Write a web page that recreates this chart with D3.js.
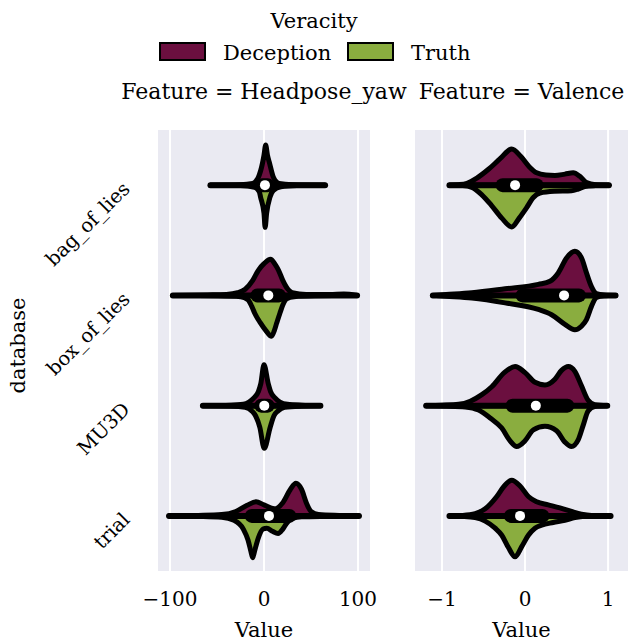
<!DOCTYPE html>
<html>
<head>
<meta charset="utf-8">
<script src="https://cdn.jsdelivr.net/npm/d3@7/dist/d3.min.js"></script>
<style>
  body { margin: 0; background: #fff; }
  text { font-family: "DejaVu Serif", serif; fill: #000; }
</style>
</head>
<body>
<div id="chart"></div>
<script>
// categories and groups
var databases = ["bag_of_lies", "box_of_lies", "MU3D", "trial"];
var features = ["Headpose_yaw", "Valence"];
var veracity = ["Deception", "Truth"];
var colours = ["#6b0f3f", "#8aad3f"];

// tick labels
var yawTicks = [-100, 0, 100];
var valTicks = [-1, 0, 1];

// density profiles: [value, relative density]
var yawDeception = [
  [[-57,0],[-25,0.01],[-12,0.04],[-6,0.18],[-1.6,0.5],[0,0.68],[1.8,0.91],[3.7,0.68],[5.9,0.5],[10,0.18],[16,0.04],[30,0.01],[65,0]],
  [[-97,0],[-60,0.01],[-40,0.02],[-28,0.06],[-20,0.14],[-12,0.34],[-6,0.57],[0,0.72],[7,0.82],[12,0.7],[15.5,0.57],[20,0.34],[25,0.15],[30,0.06],[45,0.02],[70,0.02],[85,0.03],[99,0]],
  [[-65,0],[-35,0.01],[-22,0.03],[-16,0.08],[-11,0.17],[-6,0.32],[-3.4,0.5],[0,0.93],[4.5,0.5],[7,0.32],[12,0.17],[17,0.08],[25,0.03],[40,0.01],[60,0]],
  [[-101,0],[-70,0.01],[-45,0.03],[-30,0.1],[-18,0.24],[-8.5,0.32],[0,0.25],[11,0.16],[20,0.3],[28,0.6],[34,0.74],[40,0.6],[45,0.3],[50,0.1],[58,0.03],[80,0.01],[101,0]]
];
var yawTruth = [
  [[-57,0],[-25,0.01],[-10,0.05],[-5,0.15],[-3.7,0.27],[0,0.64],[1.2,0.96],[2.8,0.64],[6.4,0.27],[10,0.12],[18,0.04],[35,0.01],[65,0]],
  [[-97,0],[-50,0.01],[-25,0.03],[-17,0.1],[-13,0.25],[-10,0.4],[-4,0.62],[2,0.8],[8,0.93],[11,0.8],[13.5,0.63],[17,0.4],[20,0.22],[24,0.08],[32,0.03],[55,0.01],[99,0]],
  [[-65,0],[-35,0.01],[-20,0.04],[-13,0.12],[-9,0.23],[-4.5,0.49],[0.3,0.97],[6.6,0.49],[10.6,0.23],[15,0.12],[22,0.04],[40,0.01],[60,0]],
  [[-101,0],[-70,0.01],[-45,0.03],[-32,0.1],[-22,0.3],[-17,0.55],[-14,0.8],[-12,0.95],[-10,0.8],[-6,0.5],[-1,0.3],[3,0.28],[9,0.35],[15,0.4],[20,0.3],[24,0.17],[30,0.06],[40,0.02],[70,0.01],[101,0]]
];
var valDeception = [
  [[-0.91,0],[-0.8,0.01],[-0.7,0.04],[-0.58,0.16],[-0.44,0.36],[-0.3,0.6],[-0.16,0.82],[-0.05,0.65],[0.05,0.42],[0.14,0.28],[0.25,0.23],[0.36,0.22],[0.48,0.25],[0.58,0.28],[0.66,0.2],[0.74,0.06],[0.85,0.01],[1.01,0]],
  [[-1.11,0],[-0.95,0.02],[-0.64,0.06],[-0.24,0.15],[0.16,0.25],[0.3,0.32],[0.4,0.51],[0.5,0.85],[0.6,1.0],[0.68,0.85],[0.74,0.51],[0.8,0.2],[0.86,0.04],[0.95,0.01],[1.09,0]],
  [[-1.19,0],[-1.0,0.01],[-0.8,0.03],[-0.66,0.1],[-0.52,0.25],[-0.4,0.43],[-0.25,0.75],[-0.12,0.89],[0.0,0.75],[0.12,0.53],[0.24,0.47],[0.36,0.6],[0.44,0.8],[0.52,0.89],[0.6,0.78],[0.68,0.45],[0.76,0.12],[0.84,0.02],[0.99,0]],
  [[-0.91,0],[-0.75,0.01],[-0.6,0.05],[-0.48,0.16],[-0.34,0.44],[-0.25,0.68],[-0.16,0.81],[-0.06,0.68],[0.04,0.44],[0.14,0.32],[0.28,0.25],[0.42,0.18],[0.56,0.1],[0.68,0.04],[0.8,0.01],[1.03,0]]
];
var valTruth = [
  [[-0.91,0],[-0.75,0.01],[-0.64,0.05],[-0.52,0.22],[-0.4,0.47],[-0.28,0.75],[-0.16,0.95],[-0.07,0.75],[0.02,0.51],[0.1,0.28],[0.18,0.18],[0.35,0.14],[0.56,0.13],[0.64,0.09],[0.72,0.03],[0.85,0.01],[1.01,0]],
  [[-1.11,0],[-0.95,0.02],[-0.64,0.06],[-0.24,0.17],[0.16,0.32],[0.32,0.44],[0.48,0.66],[0.6,0.78],[0.68,0.7],[0.74,0.55],[0.8,0.25],[0.86,0.05],[0.95,0.01],[1.09,0]],
  [[-1.19,0],[-0.95,0.01],[-0.72,0.03],[-0.56,0.1],[-0.42,0.28],[-0.28,0.51],[-0.18,0.8],[-0.1,0.93],[0.0,0.8],[0.1,0.55],[0.24,0.47],[0.38,0.57],[0.48,0.83],[0.56,0.93],[0.64,0.78],[0.7,0.45],[0.76,0.12],[0.84,0.02],[0.99,0]],
  [[-0.91,0],[-0.75,0.01],[-0.6,0.04],[-0.48,0.12],[-0.36,0.28],[-0.28,0.44],[-0.2,0.72],[-0.12,0.93],[-0.04,0.7],[0.04,0.44],[0.12,0.28],[0.2,0.21],[0.34,0.15],[0.48,0.1],[0.6,0.04],[0.72,0.01],[1.03,0]]
];

// box stats: [whisker low, q1, median, q3, whisker high]
var yawBox = [[-57,-2,1,4,65], [-97,-7,4.6,16,99], [-65,-3,0.3,4,60], [-101,-13,5.3,27,101]];
var valBox = [[-0.91,-0.27,-0.12,0.14,1.01], [-1.11,-0.03,0.47,0.65,1.09], [-1.19,-0.15,0.13,0.51,0.99], [-0.91,-0.17,-0.06,0.21,1.03]];

// set the dimensions of the graph
var width = 630, height = 644;
var top0 = 130, bottom0 = 571;

var svg = d3.select("#chart").append("svg")
    .attr("width", width)
    .attr("height", height);

var y = d3.scaleBand().domain(databases).range([top0, bottom0]).padding(0);
var w = d3.scaleLinear().domain([0, 1]).range([0, 44]);

var panels = [
  {feature: features[0], x: d3.scaleLinear().domain([-112.8, 112.8]).range([158, 370]),
   ticks: yawTicks, dec: yawDeception, tru: yawTruth, box: yawBox},
  {feature: features[1], x: d3.scaleLinear().domain([-1.325, 1.24]).range([415, 628]),
   ticks: valTicks, dec: valDeception, tru: valTruth, box: valBox}
];

panels.forEach(function(p) {
  var x = p.x;
  var r = x.range();
  var g = svg.append("g");

  // background
  g.append("rect")
      .attr("x", r[0]).attr("y", top0)
      .attr("width", r[1] - r[0]).attr("height", bottom0 - top0)
      .style("fill", "#eaeaf2");

  // grid lines
  g.selectAll("grid")
      .data(p.ticks)
    .enter().append("line")
      .attr("x1", function(d) { return x(d); })
      .attr("x2", function(d) { return x(d); })
      .attr("y1", top0).attr("y2", bottom0)
      .style("stroke", "#fff")
      .style("stroke-width", 2);

  // tick labels
  g.selectAll("tick")
      .data(p.ticks)
    .enter().append("text")
      .attr("x", function(d) { return x(d); })
      .attr("y", 606)
      .attr("text-anchor", "middle")
      .style("font-size", "20px")
      .text(function(d) { return d3.format("")(d); });

  // axis label
  g.append("text")
      .attr("x", (r[0] + r[1]) / 2)
      .attr("y", 637)
      .attr("text-anchor", "middle")
      .style("font-size", "21px")
      .text("Value");

  // facet title
  g.append("text")
      .attr("x", (r[0] + r[1]) / 2)
      .attr("y", 99)
      .attr("text-anchor", "middle")
      .style("font-size", "22px")
      .text("Feature = " + p.feature);

  // violins, one per database
  databases.forEach(function(db, i) {
    var cy = y(db) + y.bandwidth() / 2;

    var upper = d3.area()
        .curve(d3.curveMonotoneX)
        .x(function(d) { return x(d[0]); })
        .y0(cy)
        .y1(function(d) { return cy - w(d[1]); });
    var lower = d3.area()
        .curve(d3.curveMonotoneX)
        .x(function(d) { return x(d[0]); })
        .y0(cy)
        .y1(function(d) { return cy + w(d[1]); });

    g.append("path")
        .datum(p.dec[i])
        .attr("d", upper)
        .style("fill", colours[0])
        .style("stroke", "#000")
        .style("stroke-width", 5)
        .style("stroke-linejoin", "round");

    g.append("path")
        .datum(p.tru[i])
        .attr("d", lower)
        .style("fill", colours[1])
        .style("stroke", "#000")
        .style("stroke-width", 5)
        .style("stroke-linejoin", "round");

    var b = p.box[i];
    // whiskers
    g.append("line")
        .attr("x1", x(b[0])).attr("x2", x(b[4]))
        .attr("y1", cy).attr("y2", cy)
        .style("stroke", "#000")
        .style("stroke-width", 6)
        .style("stroke-linecap", "round");
    // box
    g.append("line")
        .attr("x1", x(b[1])).attr("x2", x(b[3]))
        .attr("y1", cy).attr("y2", cy)
        .style("stroke", "#000")
        .style("stroke-width", 14)
        .style("stroke-linecap", "round");
    // median
    g.append("circle")
        .attr("cx", x(b[2]))
        .attr("cy", cy)
        .attr("r", 5)
        .style("fill", "#fff");
  });
});

// y tick labels, rotated
svg.selectAll("ylab")
    .data(databases)
  .enter().append("text")
    .attr("transform", function(d) {
      return "translate(131," + (y(d) + y.bandwidth() / 2 + 5) + ") rotate(-45)";
    })
    .attr("text-anchor", "end")
    .style("font-size", "19.5px")
    .text(function(d) { return d; });

// y axis label
svg.append("text")
    .attr("transform", "translate(25," + ((top0 + bottom0) / 2 - 5) + ") rotate(-90)")
    .attr("text-anchor", "middle")
    .style("font-size", "21px")
    .text("database");

// legend
svg.append("text")
    .attr("x", 314)
    .attr("y", 28)
    .attr("text-anchor", "middle")
    .style("font-size", "21px")
    .text("Veracity");

var legendX = [160, 348];
var leg = svg.selectAll("legend")
    .data(veracity)
  .enter().append("g")
    .attr("transform", function(d, i) { return "translate(" + legendX[i] + ",43)"; });

leg.append("rect")
    .attr("width", 45)
    .attr("height", 17)
    .style("fill", function(d, i) { return colours[i]; })
    .style("stroke", "#000")
    .style("stroke-width", 2);

leg.append("text")
    .attr("x", 63)
    .attr("y", 17)
    .style("font-size", "21px")
    .text(function(d) { return d; });
</script>
</body>
</html>
